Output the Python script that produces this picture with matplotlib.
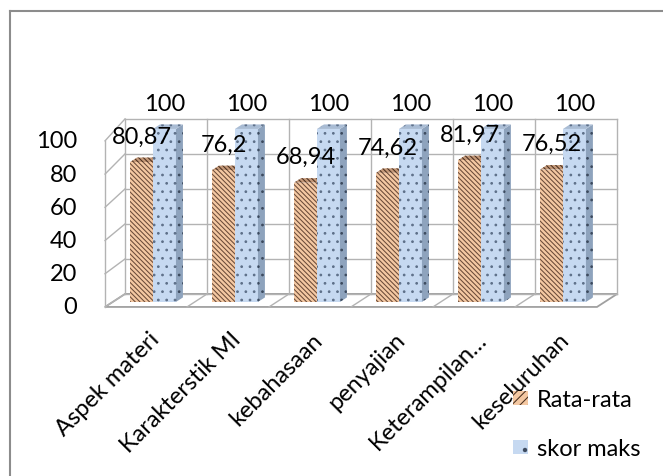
import matplotlib
matplotlib.use("Agg")
import matplotlib.pyplot as plt
from matplotlib.patches import Polygon, Patch
from matplotlib.lines import Line2D
import numpy as np

categories = ["Aspek materi", "Karakterstik MI", "kebahasaan", "penyajian",
              "Keterampilan…", "keseluruhan"]
rata_rata = [80.87, 76.2, 68.94, 74.62, 81.97, 76.52]
skor_maks = [100, 100, 100, 100, 100, 100]
rata_labels = ["80,87", "76,2", "68,94", "74,62", "81,97", "76,52"]
y_ticks = [0, 20, 40, 60, 80, 100]

plt.rcParams['font.family'] = ['Lato', 'DejaVu Sans']
plt.rcParams['hatch.linewidth'] = 0.75
FS = 17

fig = plt.figure(figsize=(6.63, 4.77), dpi=100)
ax = fig.add_axes([0, 0, 1, 1])
ax.set_xlim(-1.866, 6.22)
ax.set_ylim(-100.6, 175.1)
ax.axis('off')

# fake 3D box: front plane and back plane
xf0, xf1 = -0.585, 5.415
xb0, xb1 = -0.341, 5.66
def yf(v):
    return -2.89 + 0.96 * v
def yb(v):
    return 4.62 + 1.012 * v

grid = '#b3b3b3'
# floor
ax.add_patch(Polygon([(xf0, yf(0)), (xf1, yf(0)), (xb1, yb(0)), (xb0, yb(0))],
                     closed=True, facecolor='white', edgecolor='#a0a0a0', lw=1.3, zorder=0))
for i in range(1, 6):
    ax.plot([xf0 + i, xb0 + i], [yf(0), yb(0)], color=grid, lw=1, zorder=0)
# back wall
for v in y_ticks:
    ax.plot([xb0, xb1], [yb(v), yb(v)], color=grid, lw=1, zorder=0)
for i in range(7):
    ax.plot([xb0 + i, xb0 + i], [yb(0), yb(100)], color=grid, lw=1, zorder=0)
# left wall
for v in y_ticks:
    ax.plot([xf0, xb0], [yf(v), yb(v)], color=grid, lw=1, zorder=0)
ax.plot([xf0, xf0], [yf(0), yf(100)], color=grid, lw=1, zorder=0)

x = np.arange(len(categories))
w = 0.28
dx, dy = 0.085, 2.6
stripes = '\\' * 7

# bars front faces
ax.bar(x - w, rata_rata, width=w, align='edge', color='#f4c8a2',
       edgecolor='#6a4a38', linewidth=0, hatch=stripes, zorder=3)
ax.bar(x, skor_maks, width=w, align='edge', color='#c6d9f1',
       edgecolor='#5d6f88', linewidth=0, hatch='..', zorder=3)

# side and top faces
for xi, r, s in zip(x, rata_rata, skor_maks):
    ax.add_patch(Polygon([(xi - w, r), (xi, r), (xi + dx, r + dy), (xi - w + dx, r + dy)],
                         closed=True, facecolor='#c49878', edgecolor='#4a3020',
                         lw=0, hatch=stripes, zorder=2))
    ax.add_patch(Polygon([(xi + w, 0), (xi + w + dx, dy), (xi + w + dx, s + dy), (xi + w, s)],
                         closed=True, facecolor='#8ea3bd', edgecolor='#3c4a5e',
                         lw=0, hatch='..', zorder=3))
    ax.add_patch(Polygon([(xi, s), (xi + w, s), (xi + w + dx, s + dy), (xi + dx, s + dy)],
                         closed=True, facecolor='#a9bcd4', edgecolor='#5d6f88',
                         lw=0, hatch='..', zorder=3))

# data labels
for xi, r, s, lab in zip(x, rata_rata, skor_maks, rata_labels):
    ax.text(xi - w / 2, r + 15, lab, ha='center', va='center', fontsize=FS, zorder=5)
    ax.text(xi + w / 2, s + 14.5, str(s), ha='center', va='center', fontsize=FS, zorder=5)

# y tick labels
for v in y_ticks:
    ax.text(-0.927, yf(v), str(v), ha='right', va='center', fontsize=FS)

# category labels
for xi, c in zip(x, categories):
    ax.text(xi + 0.03, -19.5, c, rotation=45, rotation_mode='anchor',
            ha='right', va='center', fontsize=FS)

# legend
handles = [Patch(facecolor='#f4c8a2', edgecolor='#4a3020', linewidth=0, hatch='////'),
           Patch(facecolor='#c6d9f1', edgecolor='#3c4a5e', linewidth=0, hatch='.')]
fig.legend(handles, ["Rata-rata", "skor maks"], loc='upper left',
           bbox_to_anchor=(513 / 663, 1 - 390 / 477), frameon=False, fontsize=FS,
           handlelength=0.65, handleheight=0.55, handletextpad=0.35,
           labelspacing=1.2, borderpad=0, borderaxespad=0)

# outer chart border
fig.add_artist(Line2D([10 / 663, 10 / 663], [0, 1 - 12 / 477], color='#8c8c8c', lw=1.5,
                      transform=fig.transFigure))
fig.add_artist(Line2D([10 / 663, 1], [1 - 12 / 477, 1 - 12 / 477], color='#8c8c8c', lw=1.5,
                      transform=fig.transFigure))

plt.savefig("out.png", dpi=100)
plt.close()
